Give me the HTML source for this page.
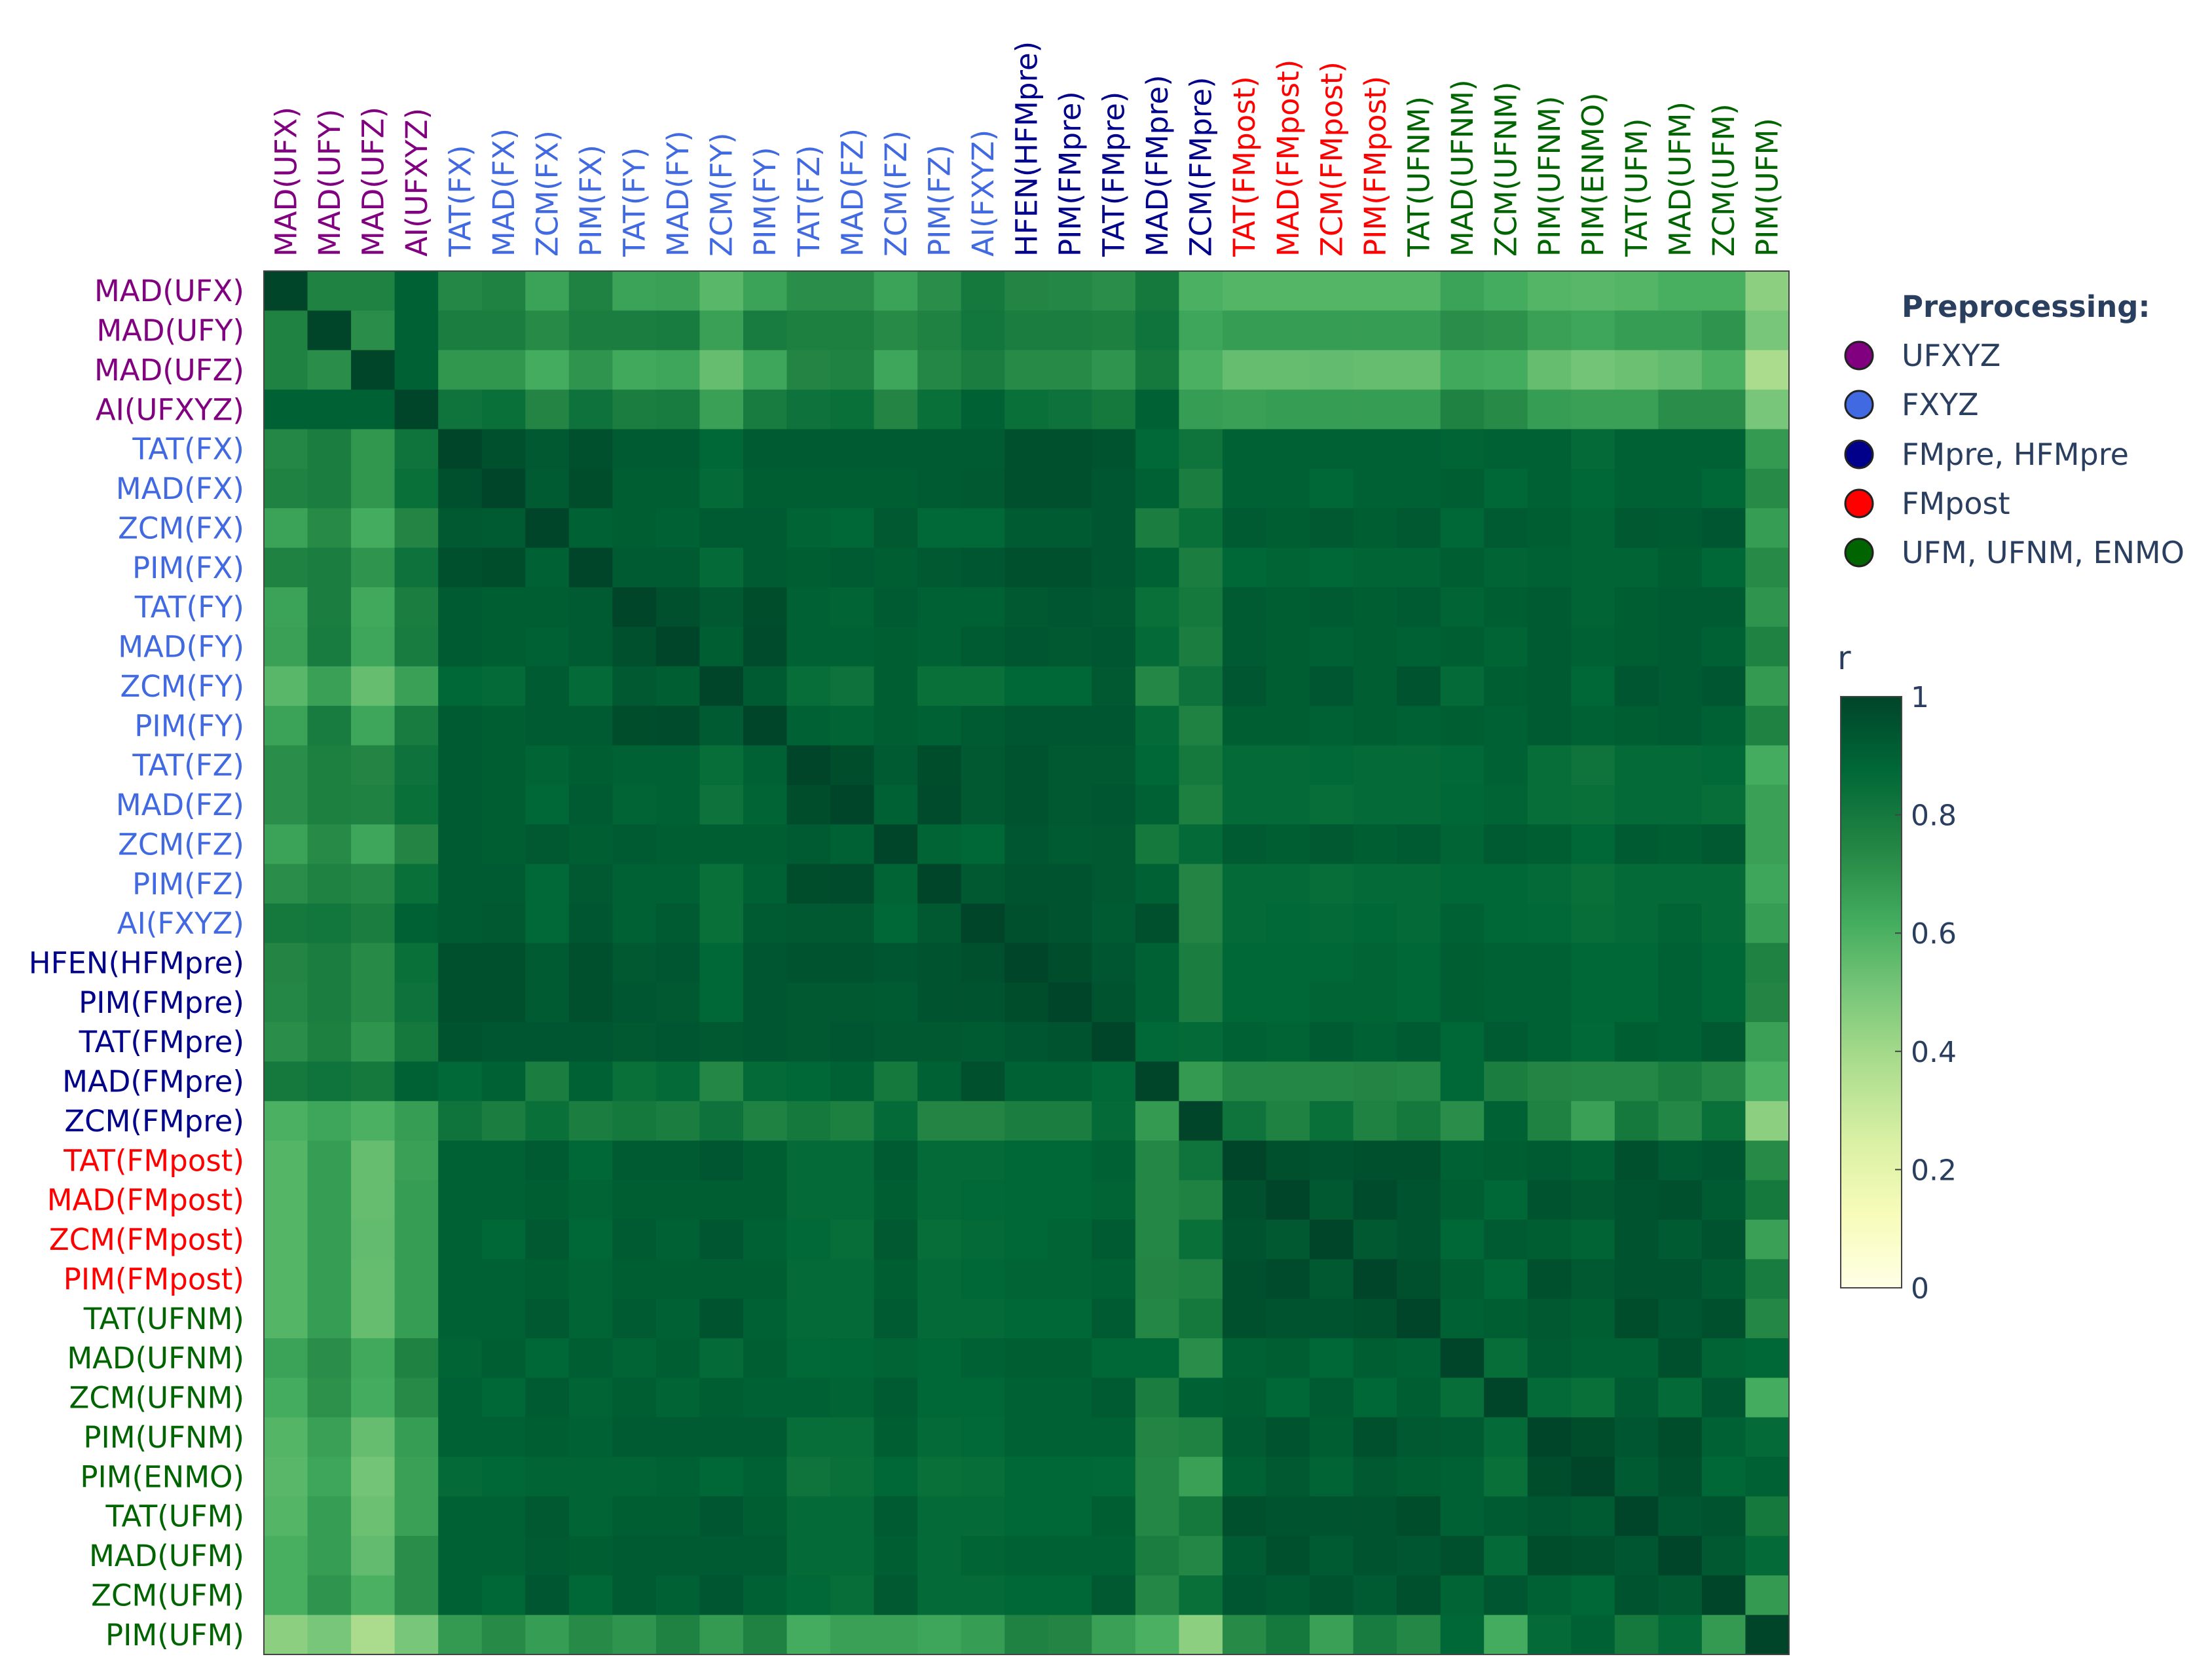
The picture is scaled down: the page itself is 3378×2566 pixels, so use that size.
<!DOCTYPE html>
<html><head><meta charset="utf-8"><style>
html,body{margin:0;padding:0;background:#fff;}
svg{display:block;font-family:"DejaVu Sans","Liberation Sans",sans-serif;}
</style></head><body>
<svg id="chart" width="3378" height="2566" viewBox="0 0 3378 2566" xmlns="http://www.w3.org/2000/svg">
<rect width="3378" height="2566" fill="#fff"/>
<g id="cells"></g>
<g id="rowLabels"></g>
<g id="colLabels"></g>
<rect x="403" y="414" width="2329" height="2113" fill="none" stroke="#444" stroke-width="2"/>
<g id="legend"></g>
<g id="colorbar"></g>
</svg>
<script>
const labels = ["MAD(UFX)","MAD(UFY)","MAD(UFZ)","AI(UFXYZ)","TAT(FX)","MAD(FX)","ZCM(FX)","PIM(FX)","TAT(FY)","MAD(FY)","ZCM(FY)","PIM(FY)","TAT(FZ)","MAD(FZ)","ZCM(FZ)","PIM(FZ)","AI(FXYZ)","HFEN(HFMpre)","PIM(FMpre)","TAT(FMpre)","MAD(FMpre)","ZCM(FMpre)","TAT(FMpost)","MAD(FMpost)","ZCM(FMpost)","PIM(FMpost)","TAT(UFNM)","MAD(UFNM)","ZCM(UFNM)","PIM(UFNM)","PIM(ENMO)","TAT(UFM)","MAD(UFM)","ZCM(UFM)","PIM(UFM)"];
const groups = [0,0,0,0,1,1,1,1,1,1,1,1,1,1,1,1,1,2,2,2,2,2,3,3,3,3,4,4,4,4,4,4,4,4,4];
const groupNames = ["UFXYZ","FXYZ","FMpre, HFMpre","FMpost","UFM, UFNM, ENMO"];
const groupColors = ["#800080","#4169e1","#00008b","#ff0000","#006400"];
const cbTicks = [0,0.2,0.4,0.6,0.8,1];
const cbTickLabels = ["0","0.2","0.4","0.6","0.8","1"];
// lower triangle of correlation matrix (row i, columns 0..i)
const lower = [
[1],
[.76,1],
[.76,.72,1],
[.9,.9,.9,1],
[.74,.78,.69,.82,1],
[.76,.78,.69,.84,.96,1],
[.65,.73,.62,.75,.93,.92,1],
[.76,.78,.7,.83,.96,.97,.9,1],
[.65,.78,.63,.78,.92,.91,.91,.92,1],
[.66,.79,.64,.79,.92,.91,.9,.92,.96,1],
[.57,.66,.54,.66,.88,.86,.92,.86,.93,.91,1],
[.65,.79,.64,.79,.92,.91,.92,.92,.97,.98,.92,1],
[.72,.77,.75,.83,.92,.91,.89,.91,.9,.9,.85,.9,1],
[.72,.77,.76,.84,.92,.91,.88,.92,.89,.9,.83,.89,.97,1],
[.65,.73,.64,.75,.92,.91,.93,.91,.92,.91,.91,.91,.92,.9,1],
[.72,.76,.74,.84,.92,.92,.87,.93,.9,.9,.84,.9,.97,.98,.89,1],
[.8,.81,.78,.9,.92,.93,.87,.94,.9,.92,.84,.92,.93,.93,.88,.93,1],
[.75,.78,.73,.84,.96,.96,.92,.96,.93,.94,.88,.94,.95,.95,.94,.95,.96,1],
[.74,.78,.73,.83,.96,.96,.92,.96,.94,.93,.88,.94,.93,.93,.92,.95,.95,.97,1],
[.72,.77,.7,.8,.95,.94,.94,.94,.93,.94,.93,.94,.93,.94,.93,.93,.92,.94,.95,1],
[.8,.82,.8,.9,.87,.9,.78,.9,.84,.86,.74,.86,.88,.9,.8,.9,.96,.9,.9,.87,1],
[.6,.64,.6,.67,.82,.78,.84,.78,.8,.78,.83,.76,.8,.77,.86,.75,.75,.78,.78,.86,.68,1],
[.58,.67,.54,.66,.9,.9,.92,.88,.92,.92,.94,.91,.86,.86,.92,.86,.86,.88,.88,.9,.74,.82,1],
[.58,.67,.54,.67,.9,.9,.91,.89,.91,.91,.91,.91,.86,.86,.91,.86,.87,.88,.88,.89,.74,.76,.96,1],
[.58,.67,.55,.67,.9,.88,.93,.88,.92,.9,.94,.9,.87,.85,.93,.85,.86,.88,.89,.92,.74,.84,.95,.93,1],
[.58,.67,.54,.67,.9,.9,.91,.89,.91,.91,.91,.91,.86,.86,.91,.86,.88,.89,.89,.9,.75,.76,.96,.98,.93,1],
[.58,.67,.54,.67,.9,.9,.93,.89,.92,.9,.95,.9,.86,.86,.92,.86,.86,.88,.88,.92,.74,.8,.96,.95,.95,.96,1],
[.65,.72,.63,.76,.89,.91,.88,.91,.89,.91,.86,.91,.87,.88,.89,.88,.9,.91,.91,.88,.88,.72,.9,.91,.88,.91,.9,1],
[.62,.71,.62,.73,.9,.88,.92,.89,.91,.89,.91,.9,.9,.89,.92,.88,.88,.9,.9,.92,.78,.9,.91,.88,.92,.88,.91,.85,1],
[.58,.66,.54,.67,.9,.9,.91,.9,.92,.92,.92,.92,.85,.85,.91,.86,.87,.9,.9,.9,.75,.76,.92,.95,.91,.96,.93,.92,.86,1],
[.57,.64,.51,.66,.86,.88,.89,.89,.89,.9,.88,.9,.82,.84,.88,.84,.85,.88,.88,.87,.74,.66,.9,.93,.89,.93,.91,.9,.84,.97,1],
[.58,.67,.53,.66,.9,.9,.93,.89,.91,.91,.94,.91,.86,.86,.92,.86,.86,.88,.88,.91,.74,.8,.96,.95,.95,.95,.97,.9,.92,.94,.92,1],
[.61,.67,.55,.72,.9,.9,.92,.91,.92,.92,.92,.92,.86,.86,.91,.86,.89,.9,.9,.9,.78,.74,.92,.96,.92,.95,.94,.96,.86,.97,.96,.94,1],
[.61,.7,.6,.72,.9,.88,.94,.88,.92,.9,.94,.9,.87,.85,.93,.86,.86,.88,.88,.93,.74,.84,.94,.92,.95,.92,.96,.89,.94,.9,.88,.95,.93,1],
[.45,.5,.38,.5,.68,.73,.67,.73,.7,.76,.68,.76,.62,.66,.66,.64,.67,.76,.75,.66,.6,.45,.73,.8,.66,.79,.74,.88,.62,.86,.9,.8,.86,.68,1]
];
const NS="http://www.w3.org/2000/svg";
const X0=403,X1=2732,Y0=414,Y1=2527;
const n=labels.length;
const cw=(X1-X0)/n, ch=(Y1-Y0)/n;
const xPos=j=>X0+j*cw, yPos=i=>Y0+i*ch;
function val(i,j){return i>=j?lower[i][j]:lower[j][i];}
const stops=[[0,[255,255,229]],[.125,[247,252,185]],[.25,[217,240,163]],[.375,[173,221,142]],[.5,[120,198,121]],[.625,[65,171,93]],[.75,[35,132,67]],[.875,[0,104,55]],[1,[0,69,41]]];
function color(v){v=Math.max(0,Math.min(1,v));for(let k=1;k<stops.length;k++){if(v<=stops[k][0]){const a=stops[k-1],b=stops[k];const t=(v-a[0])/(b[0]-a[0]);const c=a[1].map((x,q)=>Math.round(x+(b[1][q]-x)*t));return `rgb(${c[0]},${c[1]},${c[2]})`;}}return "rgb(0,69,41)";}
function mk(tag,attrs,parent){const e=document.createElementNS(NS,tag);for(const k in attrs)e.setAttribute(k,attrs[k]);parent.appendChild(e);return e;}
const gc=document.getElementById('cells');
for(let i=0;i<n;i++)for(let j=0;j<n;j++){
 const r=mk('rect',{x:xPos(j),y:yPos(i),width:cw+0.6,height:ch+0.6,fill:color(val(i,j))},gc);
 
 
}
const gr=document.getElementById('rowLabels'), gcol=document.getElementById('colLabels');
for(let i=0;i<n;i++){
 const t=mk('text',{x:X0-30,y:yPos(i)+ch/2+16,'text-anchor':'end','font-size':45,fill:groupColors[groups[i]]},gr);
 t.textContent=labels[i];
 
 
 const cx=xPos(i)+cw/2+16, cy=Y0-22;
 const c=mk('text',{x:cx,y:cy,transform:`rotate(-90 ${cx} ${cy})`,'text-anchor':'start','font-size':45,fill:groupColors[groups[i]]},gcol);
 c.textContent=labels[i];
 
 
}
const gl=document.getElementById('legend');
const lt=mk('text',{x:2904,y:484,'font-size':45,'font-weight':'bold',fill:'#2a3f5f'},gl);
lt.textContent='Preprocessing:';


const legY=[543,618,694,769,844];
for(let k=0;k<groupNames.length;k++){
 const m=mk('circle',{cx:2839,cy:legY[k],r:21,fill:groupColors[k],stroke:'#222','stroke-width':3},gl);
 
 
 const t=mk('text',{x:2904,y:legY[k]+16,'font-size':46,fill:'#2a3f5f'},gl);
 t.textContent=groupNames[k];
 
 
}
const gb=document.getElementById('colorbar');
const CBX=2811,CBW=93,CBY0=1064,CBY1=1967;
const defs=mk('defs',{},gb);
const lg=mk('linearGradient',{id:'cbgrad',x1:0,y1:1,x2:0,y2:0},defs);
stops.forEach(s=>mk('stop',{offset:s[0],'stop-color':color(s[0])},lg));
const bar=mk('rect',{x:CBX,y:CBY0,width:CBW,height:CBY1-CBY0,fill:'url(#cbgrad)',stroke:'#444','stroke-width':2},gb);


const ct=mk('text',{x:2806,y:1022,'font-size':50,fill:'#2a3f5f'},gb);
ct.textContent='r';


for(let k=0;k<cbTicks.length;k++){
 const y=CBY1-(CBY1-CBY0)*cbTicks[k];
 const tk=mk('line',{x1:CBX+CBW-10,x2:CBX+CBW,y1:y,y2:y,stroke:'#444','stroke-width':2},gb);
 
 
 const t=mk('text',{x:CBX+CBW+14,y:y+16,'font-size':44,fill:'#2a3f5f'},gb);
 t.textContent=cbTickLabels[k];
 
 
}
</script>
</body></html>
